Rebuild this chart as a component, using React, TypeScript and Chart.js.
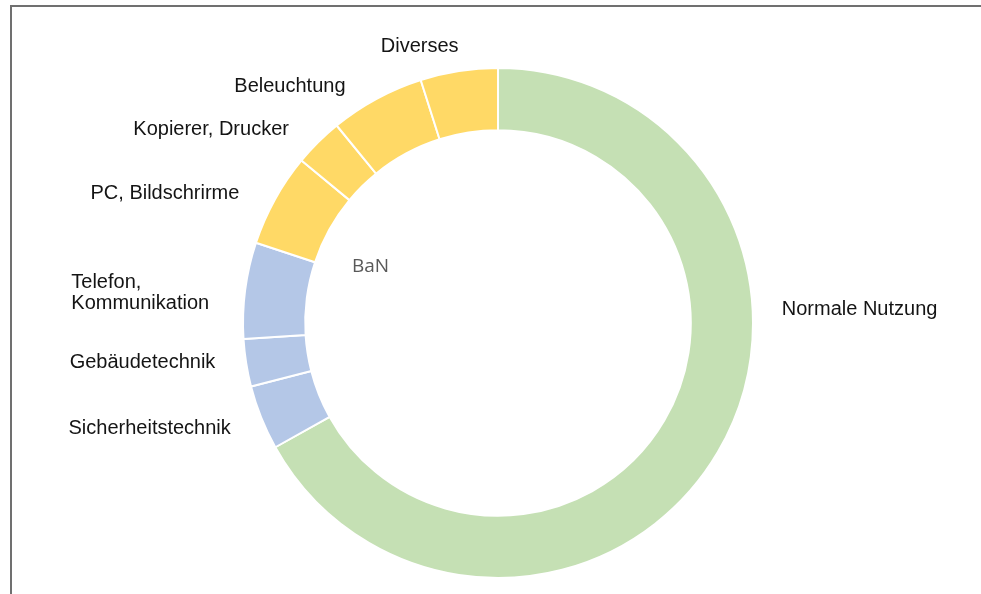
import React, { useEffect, useRef } from "react";
import { Chart, registerables } from "chart.js";

Chart.register(...registerables);

const categories: string[][] = [
  ["Normale Nutzung"],
  ["Sicherheitstechnik"],
  ["Gebäudetechnik"],
  ["Telefon,", "Kommunikation"],
  ["PC, Bildschrirme"],
  ["Kopierer, Drucker"],
  ["Beleuchtung"],
  ["Diverses"],
];
const shares: number[] = [66.9, 4.1, 3.0, 6.1, 5.9, 3.1, 6.0, 4.9];
const centerTitle = "BaN";

const GREEN = "#C5E0B4";
const BLUE = "#B4C7E7";
const YELLOW = "#FFD966";
const segmentColors = [GREEN, BLUE, BLUE, BLUE, YELLOW, YELLOW, YELLOW, YELLOW];

// label anchors, in units of the outer radius, relative to the ring centre
const labelAnchors: [number, number][] = [
  [1.414, -0.062],
  [-1.37, 0.404],
  [-1.398, 0.146],
  [-1.407, -0.126],
  [-1.31, -0.514],
  [-1.129, -0.768],
  [-0.82, -0.936],
  [-0.311, -1.092],
];
const titleAnchor: [number, number] = [-0.504, -0.228];

const labelPlugin = {
  id: "outerLabels",
  afterDatasetsDraw(chart: any) {
    const meta = chart.getDatasetMeta(0);
    const arc = meta.data[0];
    if (!arc) return;
    const cx = arc.x;
    const cy = arc.y;
    const R = arc.outerRadius;
    const ctx = chart.ctx;
    const nudge = 2;
    ctx.save();
    ctx.fillStyle = "#141414";
    ctx.font = '20px "Liberation Sans", Arial, sans-serif';
    ctx.textBaseline = "middle";
    categories.forEach((lines, i) => {
      const [ax, ay] = labelAnchors[i];
      const x = cx + ax * R + 1;
      const y = cy + ay * R + nudge;
      const lh = 21;
      if (lines.length === 1) {
        ctx.textAlign = "center";
        ctx.fillText(lines[0], x, y);
      } else {
        const w = Math.max(...lines.map((l) => ctx.measureText(l).width));
        ctx.textAlign = "left";
        const y0 = y - ((lines.length - 1) * lh) / 2;
        lines.forEach((l, k) => ctx.fillText(l, x - w / 2, y0 + k * lh));
      }
    });
    ctx.fillStyle = "#595959";
    ctx.font = '19px "Open Sans", sans-serif';
    ctx.textAlign = "center";
    ctx.fillText(centerTitle, cx + titleAnchor[0] * R + 1, cy + titleAnchor[1] * R + nudge);
    ctx.restore();
  },
};

export default function App() {
  const ref = useRef<HTMLCanvasElement | null>(null);
  useEffect(() => {
    if (!ref.current) return;
    const chart = new Chart(ref.current, {
      type: "doughnut",
      data: {
        labels: categories.map((c) => c.join(" ")),
        datasets: [
          {
            data: shares,
            backgroundColor: segmentColors,
            borderColor: "#ffffff",
            borderWidth: 2,
            hoverOffset: 0,
          },
        ],
      },
      options: {
        animation: false,
        responsive: false,
        cutout: "75.6%",
        layout: { padding: { left: 242, right: 227, top: 67, bottom: 15 } },
        plugins: {
          legend: { display: false },
          tooltip: { enabled: false },
        },
      },
      plugins: [labelPlugin],
    });
    return () => chart.destroy();
  }, []);
  return (
    <div
      style={{
        position: "fixed",
        left: 0,
        top: 0,
        width: 981,
        height: 594,
        overflow: "hidden",
        background: "#ffffff",
      }}
    >
      <div
        style={{
          position: "absolute",
          left: 10,
          top: 5,
          width: 1200,
          height: 900,
          borderTop: "2px solid #707070",
          borderLeft: "2px solid #707070",
        }}
      />
      <canvas
        ref={ref}
        width={981}
        height={594}
        style={{ position: "absolute", left: 0, top: 0, width: 981, height: 594 }}
      />
    </div>
  );
}
